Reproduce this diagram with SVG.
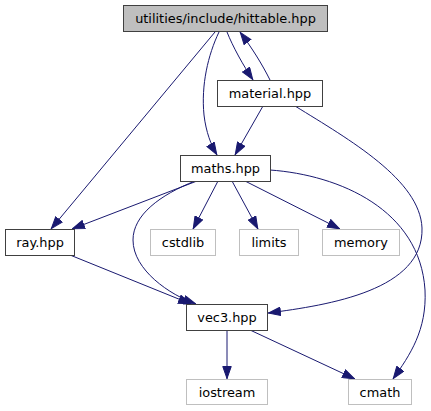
<svg xmlns="http://www.w3.org/2000/svg" width="431" height="411" viewBox="0 0 431 411">
<defs>
<marker id="arr" viewBox="0 0 13 9.5" refX="13" refY="4.75" markerWidth="13" markerHeight="9.5" markerUnits="userSpaceOnUse" orient="auto">
<path d="M0.5,0.5 L12.5,4.75 L0.5,9 z" fill="#191970" stroke="#191970" stroke-width="1"/>
</marker>
<style>
.e{fill:none;stroke:#191970;stroke-width:1;marker-end:url(#arr)}
.n rect{fill:#fff;stroke:#404040;stroke-width:1}
.n.ext rect{stroke:#bfbfbf}
.n.main rect{fill:#bfbfbf}
.n text{font-family:"DejaVu Sans",sans-serif;font-size:12.9px;fill:#000;text-anchor:middle}
</style>
</defs>
<rect width="431" height="411" fill="#fff"/>
<g id="edges">
<path class="e" d="M215,32 L51,229"/>
<path class="e" d="M219,32 C208,55 201,85 204,115 C206,132 211,145 217,155"/>
<path class="e" d="M227,32 C233,47 243,65 253,80"/>
<path class="e" d="M270,80 C262,64 252,48 240,32"/>
<path class="e" d="M263,106 L235,155"/>
<path class="e" d="M295,106 C350,140 420,180 422,228 C424,290 330,305 268,313"/>
<path class="e" d="M197,181 L72,229"/>
<path class="e" d="M195,181 C160,195 133,215 133,240 C133,270 170,295 196,304"/>
<path class="e" d="M218,181 L193,229"/>
<path class="e" d="M232,181 L258,229"/>
<path class="e" d="M245,181 L340,229"/>
<path class="e" d="M270,170 C340,175 420,210 425,290 C427,330 410,355 393,379"/>
<path class="e" d="M70,255 L191,304"/>
<path class="e" d="M227,330 L227,379"/>
<path class="e" d="M250,330 L355,379"/>
</g>
<g id="hittable" class="n main"><rect x="123.5" y="5.5" width="204" height="26"/><text x="225.5" y="23">utilities/include/hittable.hpp</text></g>
<g id="material" class="n"><rect x="217.5" y="80.5" width="105" height="26"/><text x="270" y="98">material.hpp</text></g>
<g id="maths" class="n"><rect x="180.5" y="155.5" width="90" height="26"/><text x="225.5" y="173">maths.hpp</text></g>
<g id="ray" class="n"><rect x="5.5" y="229.5" width="69" height="26"/><text x="40" y="247">ray.hpp</text></g>
<g id="cstdlib" class="n ext"><rect x="150.5" y="229.5" width="65" height="26"/><text x="183" y="247">cstdlib</text></g>
<g id="limits" class="n ext"><rect x="239.5" y="229.5" width="59" height="26"/><text x="269" y="247">limits</text></g>
<g id="memory" class="n ext"><rect x="322.5" y="229.5" width="77" height="26"/><text x="361" y="247">memory</text></g>
<g id="vec3" class="n"><rect x="186.5" y="304.5" width="81" height="26"/><text x="227" y="322">vec3.hpp</text></g>
<g id="iostream" class="n ext"><rect x="186.5" y="379.5" width="81" height="25"/><text x="227" y="396.5">iostream</text></g>
<g id="cmath" class="n ext"><rect x="348.5" y="379.5" width="63" height="25"/><text x="380" y="396.5">cmath</text></g>
</svg>
